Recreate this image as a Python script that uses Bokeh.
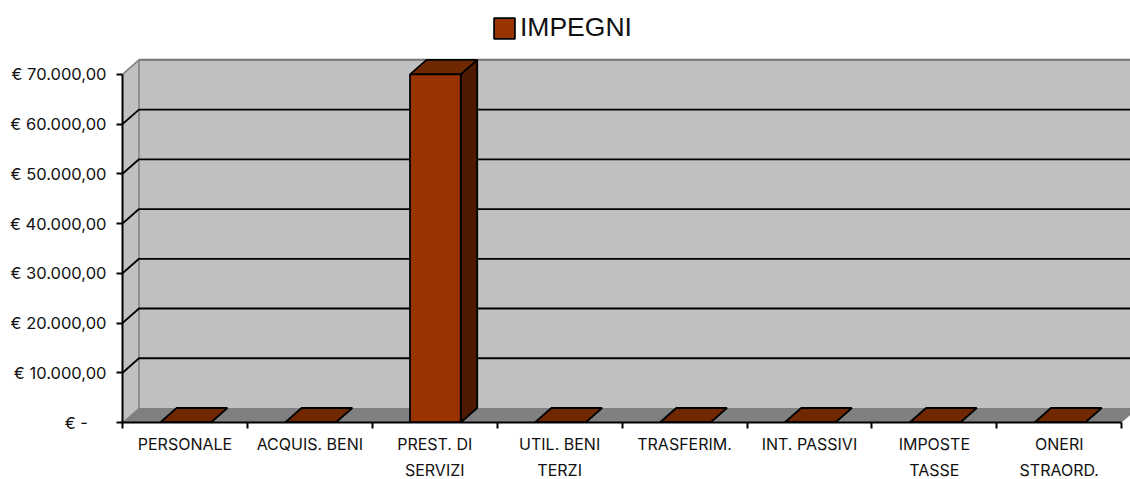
from bokeh.plotting import figure
from bokeh.models import FixedTicker, Legend, LegendItem, Range1d
from bokeh.embed import file_html
from bokeh.resources import INLINE

categories = ["PERSONALE", "ACQUIS. BENI", "PREST. DI\nSERVIZI", "UTIL. BENI\nTERZI",
              "TRASFERIM.", "INT. PASSIVI", "IMPOSTE\nTASSE", "ONERI\nSTRAORD."]
impegni = [0, 0, 70000, 0, 0, 0, 0, 0]
y_ticks = [0, 10000, 20000, 30000, 40000, 50000, 60000, 70000]
y_labels = ["€  -\u00a0\u00a0\u00a0", "€ 10.000,00", "€ 20.000,00", "€ 30.000,00",
            "€ 40.000,00", "€ 50.000,00", "€ 60.000,00", "€ 70.000,00"]

CAT_PX, KPX = 124.9, 4.974
LEFT, RIGHT, TOP, BOTTOM = 122, 1130, 10, 422
DX, DY = 16.5 / CAT_PX, 14.5 / KPX * 1000
XMAX = (RIGHT - LEFT) / CAT_PX
YMAX = (BOTTOM - TOP) / KPX * 1000
N, VMAX = len(categories), y_ticks[-1]
FONT = "Inter"

p = figure(width=RIGHT, height=479, frame_width=RIGHT - LEFT, frame_height=BOTTOM - TOP,
           output_backend="svg", toolbar_location=None,
           x_range=Range1d(0, XMAX), y_range=Range1d(0, YMAX),
           min_border_left=LEFT, min_border_right=0, min_border_top=TOP,
           min_border_bottom=479 - BOTTOM)
p.outline_line_color = None
p.grid.visible = False

# walls
p.patch([DX, XMAX + 1, XMAX + 1, DX], [DY, DY, VMAX + DY, VMAX + DY], fill_color="#C0C0C0", line_color=None)
p.patch([0, DX, DX, 0], [0, DY, VMAX + DY, VMAX], fill_color="#C0C0C0", line_color=None)
p.patch([0, N, N + DX, XMAX + 1, XMAX + 1, DX], [0, 0, DY, DY, DY, DY], fill_color="#808080", line_color=None)
p.line([0, DX], [VMAX, VMAX + DY], line_color="#808080", line_width=1.5)
p.line([DX, DX], [DY, VMAX + DY], line_color="#808080", line_width=1.5)
p.line([DX, XMAX + 1], [VMAX + DY, VMAX + DY], line_color="#757575", line_width=2)
p.line([0, DX], [0, DY], line_color="#808080", line_width=1)

# gridlines
for t in y_ticks[1:-1]:
    p.line([0, DX, XMAX + 1], [t, t + DY, t + DY], line_color="black", line_width=1.8)

# bars
w = 0.406
front = None
for i, v in enumerate(impegni):
    l, r = i + 0.5 - w / 2 + 0.005, i + 0.5 + w / 2 + 0.005
    if v:
        p.patch([r, r + DX, r + DX, r], [0, DY, v + DY, v], fill_color="#4D1A00", line_color="black", line_width=1.8)
    p.patch([l, r, r + DX, l + DX], [v, v, v + DY, v + DY], fill_color="#702800", line_color="black", line_width=1.8)
    q = p.quad(left=[l], right=[r], bottom=[0], top=[v], fill_color="#993300", line_color="black", line_width=1.8)
    if front is None:
        front = q

# axes
xa = p.xaxis[0]
xa.bounds = (0, N)
xa.ticker = FixedTicker(ticks=[i + 0.5 for i in range(N)], minor_ticks=list(range(N + 1)))
xa.major_label_overrides = {i + 0.5: c for i, c in enumerate(categories)}
xa.major_tick_out = 0
xa.major_tick_in = 0
xa.minor_tick_out = 6
xa.minor_tick_in = 0
xa.minor_tick_line_color = "black"
xa.minor_tick_line_width = 2
xa.axis_line_color = "black"
xa.axis_line_width = 2
xa.major_label_standoff = 5
xa.major_label_text_font = FONT
xa.major_label_text_font_size = "16px"
xa.major_label_text_color = "#111111"
xa.major_label_text_line_height = 1.3

ya = p.yaxis[0]
ya.bounds = (0, VMAX)
ya.ticker = FixedTicker(ticks=y_ticks)
ya.major_label_overrides = dict(zip(y_ticks, y_labels))
ya.major_tick_out = 6
ya.major_tick_in = 0
ya.minor_tick_out = 0
ya.minor_tick_in = 0
ya.major_tick_line_color = "black"
ya.major_tick_line_width = 2
ya.axis_line_color = "black"
ya.axis_line_width = 2
ya.major_label_standoff = 10
ya.major_label_text_font = FONT
ya.major_label_text_font_size = "16.5px"
ya.major_label_text_color = "#111111"

leg = Legend(items=[LegendItem(label="IMPEGNI", renderers=[front])],
             location=(491 - LEFT, BOTTOM - 43), background_fill_alpha=0, border_line_color=None,
             glyph_width=26, glyph_height=26, label_standoff=3, padding=0, margin=0,
             label_text_font="Liberation Sans", label_text_font_size="26.5px", label_text_color="#111111")
p.add_layout(leg, "center")

open("out.html", "w").write(file_html(p, INLINE))
